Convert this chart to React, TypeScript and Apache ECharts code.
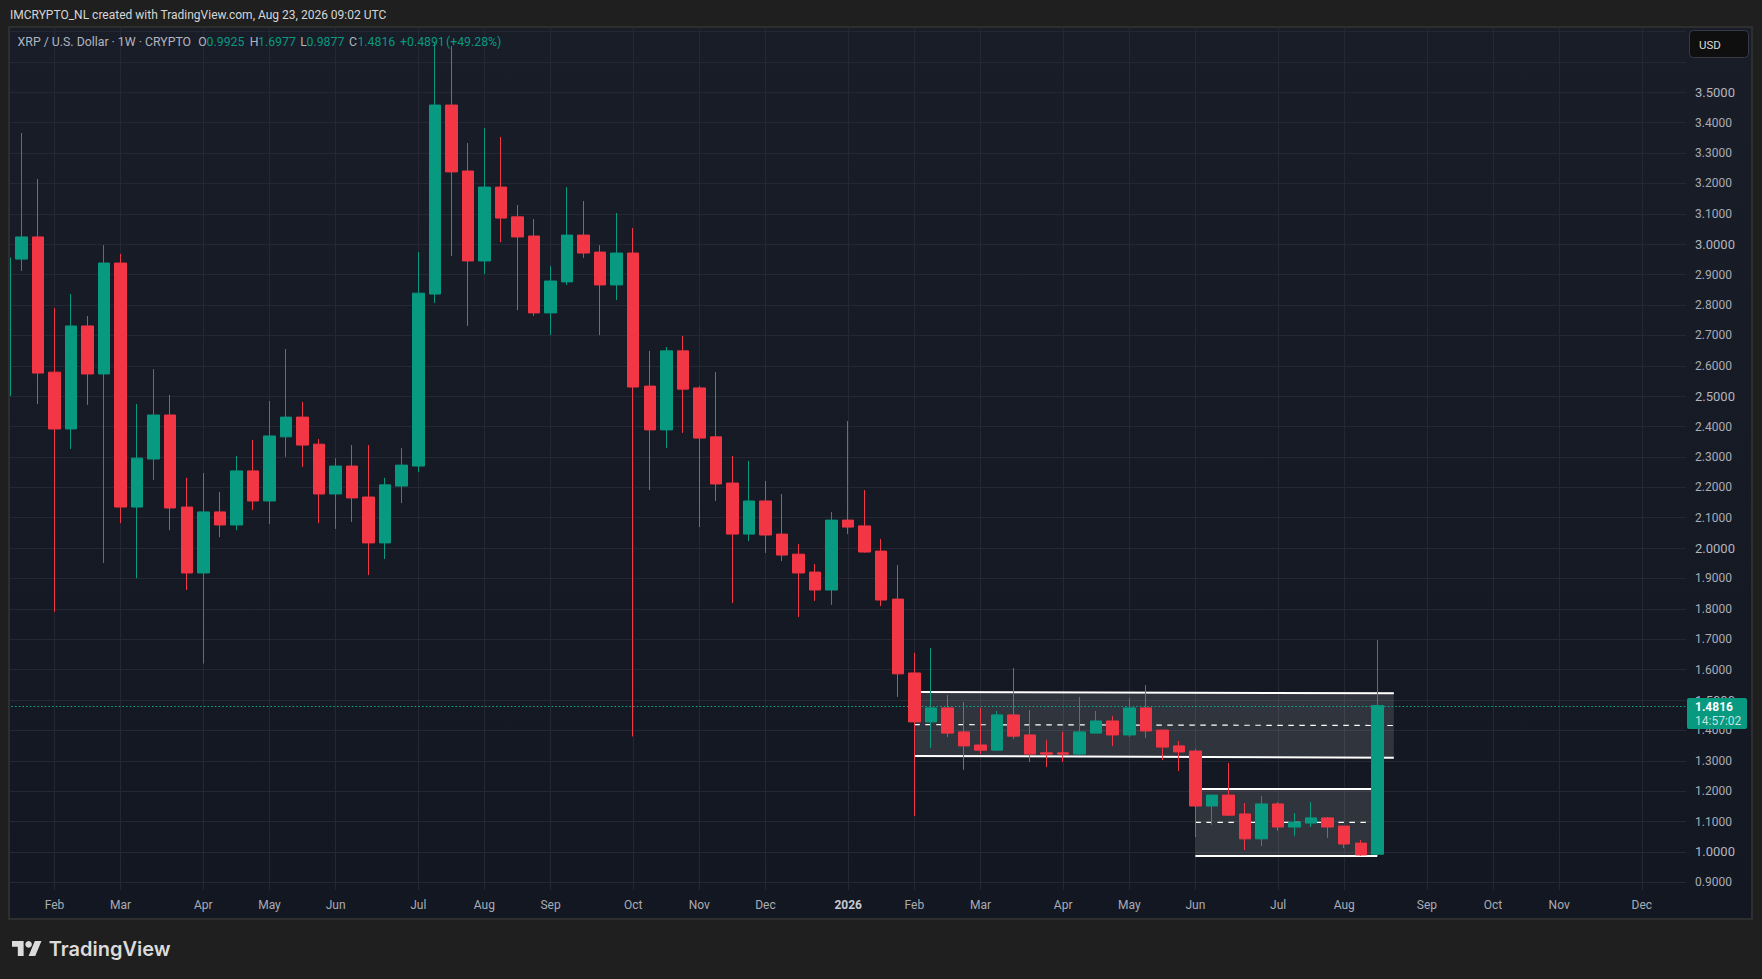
import React, { useEffect, useRef } from 'react';
import * as echarts from 'echarts';

const opens = [2.501, 2.951, 3.024, 2.579, 2.392, 2.731, 2.573, 2.938, 2.135, 2.293, 2.438, 2.135, 1.918, 2.119, 2.076, 2.254, 2.155, 2.366, 2.431, 2.342, 2.178, 2.27, 2.168, 2.017, 2.204, 2.27, 2.836, 3.458, 3.241, 2.945, 3.188, 3.09, 3.027, 2.774, 2.876, 3.03, 2.974, 2.866, 2.971, 2.533, 2.389, 2.649, 2.527, 2.366, 2.214, 2.046, 2.155, 2.046, 1.98, 1.921, 1.862, 2.092, 2.073, 1.99, 1.832, 1.589, 1.428, 1.474, 1.395, 1.352, 1.335, 1.451, 1.385, 1.326, 1.326, 1.322, 1.391, 1.431, 1.385, 1.474, 1.401, 1.349, 1.332, 1.151, 1.187, 1.125, 1.043, 1.158, 1.082, 1.095, 1.112, 1.085, 1.029, 0.9925];
const closes = [2.955, 3.024, 2.576, 2.392, 2.731, 2.573, 2.938, 2.135, 2.296, 2.438, 2.132, 1.918, 2.119, 2.076, 2.254, 2.155, 2.369, 2.431, 2.339, 2.178, 2.27, 2.165, 2.017, 2.208, 2.273, 2.839, 3.458, 3.238, 2.945, 3.188, 3.086, 3.024, 2.774, 2.879, 3.03, 2.971, 2.866, 2.971, 2.53, 2.389, 2.649, 2.523, 2.362, 2.211, 2.046, 2.155, 2.043, 1.977, 1.918, 1.862, 2.092, 2.069, 1.987, 1.829, 1.586, 1.428, 1.474, 1.391, 1.349, 1.335, 1.451, 1.381, 1.322, 1.322, 1.322, 1.395, 1.431, 1.385, 1.474, 1.398, 1.345, 1.329, 1.151, 1.187, 1.121, 1.043, 1.158, 1.082, 1.098, 1.112, 1.082, 1.026, 0.99, 1.4816];
const lows = [2.5, 2.912, 2.474, 1.79, 2.326, 2.471, 1.951, 2.082, 1.901, 2.224, 2.059, 1.862, 1.62, 2.036, 2.059, 2.125, 2.079, 2.3, 2.267, 2.082, 2.063, 2.086, 1.911, 1.964, 2.148, 2.25, 2.807, 2.961, 2.731, 2.902, 3.007, 2.783, 2.764, 2.701, 2.866, 2.955, 2.701, 2.816, 1.38, 2.191, 2.329, 2.379, 2.069, 2.155, 1.819, 2.023, 1.984, 1.957, 1.773, 1.826, 1.813, 2.046, 1.985, 1.809, 1.51, 1.118, 1.342, 1.378, 1.27, 1.322, 1.332, 1.372, 1.296, 1.279, 1.296, 1.319, 1.391, 1.349, 1.378, 1.375, 1.302, 1.266, 1.049, 1.089, 1.118, 1.006, 1.019, 1.069, 1.052, 1.082, 1.046, 1.013, 0.9877, 0.9877];
const highs = [2.955, 3.366, 3.215, 2.79, 2.836, 2.764, 2.997, 2.968, 2.474, 2.589, 2.504, 2.231, 2.247, 2.185, 2.303, 2.356, 2.484, 2.655, 2.481, 2.359, 2.296, 2.339, 2.339, 2.231, 2.329, 2.974, 3.662, 3.652, 3.333, 3.382, 3.353, 3.129, 3.083, 2.928, 3.188, 3.142, 2.997, 3.103, 3.053, 2.649, 2.662, 2.698, 2.533, 2.579, 2.303, 2.287, 2.221, 2.178, 2.013, 1.948, 2.119, 2.418, 2.191, 2.03, 1.944, 1.655, 1.671, 1.516, 1.493, 1.474, 1.464, 1.605, 1.467, 1.368, 1.395, 1.51, 1.464, 1.447, 1.507, 1.549, 1.401, 1.365, 1.339, 1.187, 1.293, 1.161, 1.184, 1.164, 1.128, 1.164, 1.115, 1.085, 1.039, 1.6977];

// weeks that open a new month on the time scale
const monthWeeks: Record<number, string> = {
  3: 'Feb', 7: 'Mar', 12: 'Apr', 16: 'May', 20: 'Jun', 25: 'Jul', 29: 'Aug', 33: 'Sep',
  38: 'Oct', 42: 'Nov', 46: 'Dec', 51: '2026', 55: 'Feb', 59: 'Mar', 64: 'Apr', 68: 'May',
  72: 'Jun', 77: 'Jul', 81: 'Aug', 86: 'Sep', 90: 'Oct', 94: 'Nov', 99: 'Dec',
};
const categories = Array.from({ length: 103 }, (_, i) => monthWeeks[i] ?? '');

const gridTicks = [0.9, 1.0, 1.1, 1.2, 1.3, 1.4, 1.5, 1.6, 1.7, 1.8, 1.9, 2.0, 2.1, 2.2, 2.3, 2.4, 2.5, 2.6, 2.7, 2.8, 2.9, 3.0, 3.1, 3.2, 3.3, 3.4, 3.5, 3.6, 3.7];
const priceLabels = gridTicks.filter((v) => v <= 3.5);

const lastPrice = 1.4816;

// drawn ranges: [week, value] at each end
const upperTop = [[55, 1.526], [84, 1.522]];
const upperMid = [[55, 1.419], [84, 1.416]];
const upperBottom = [[55, 1.316], [84, 1.31]];
const lowerTop = [[72, 1.207], [83, 1.207]];
const lowerMid = [[72, 1.097], [83, 1.097]];
const lowerBottom = [[72, 0.9866], [83, 0.9866]];

const legendParts: Array<[string, number, string]> = [
  ['XRP / U.S. Dollar · 1W · CRYPTO', 17.6, '#b2b5be'],
  ['O', 198.3, '#b2b5be'],
  ['0.9925', 206.6, '#089981'],
  ['H', 249.7, '#b2b5be'],
  ['1.6977', 258, '#089981'],
  ['L', 300.3, '#b2b5be'],
  ['0.9877', 306.5, '#089981'],
  ['C', 349, '#b2b5be'],
  ['1.4816', 357.4, '#089981'],
  ['+0.4891', 400, '#089981'],
  ['(+49.28%)', 446, '#089981'],
];

const UP = '#089981';
const DOWN = '#f23645';
const OUTER = '#1f1f1f';
const FRAME = '#2e2e2e';
const FONT = 'Roboto, sans-serif';
const MIN_Y = 0.8747;
const MAX_Y = 3.7116;

echarts.graphic.registerShape(
  'tvLogo',
  echarts.graphic.extendPath('M14 22H7V11H0V4h14v18zM28 22h-8l7.5-18h8L28 22z', {}) as any,
);

const rangeLine = (data: number[][], color: string, width: number, type: string = 'solid') => ({
  type: 'line' as const,
  data,
  xAxisIndex: 0,
  yAxisIndex: 0,
  z: 1,
  silent: true,
  showSymbol: false,
  symbol: 'none',
  lineStyle: { color, width, type: type === 'dashed' ? [5.5, 5.5] : type },
});

export default function App() {
  const chartRef = useRef<HTMLDivElement>(null);

  useEffect(() => {
    if (!chartRef.current) return;
    const chart = echarts.init(chartRef.current, undefined, { renderer: 'svg' });

    const option: any = {
      animation: false,
      backgroundColor: OUTER,
      textStyle: { fontFamily: FONT },
      grid: [
        { left: -3.37, top: 28, width: 1703.1, height: 862, outerBoundsMode: 'none' },
        { left: 10, top: 28, width: 1676, height: 862, outerBoundsMode: 'none' },
      ],
      xAxis: [
        {
          type: 'category',
          gridIndex: 0,
          data: categories,
          axisLine: { show: false },
          axisTick: { show: false },
          axisLabel: {
            interval: (i: number) => monthWeeks[i] !== undefined,
            color: '#a9acb5',
            fontSize: 12,
            margin: 9,
            fontFamily: FONT,
            formatter: (v: string) => (v === '2026' ? `{y|${v}}` : v),
            rich: { y: { color: '#c6c9d1', fontSize: 12, fontWeight: 'bold', fontFamily: FONT } },
          },
          splitLine: {
            show: true,
            alignWithLabel: true,
            interval: (i: number) => monthWeeks[i] !== undefined,
            lineStyle: { color: '#252833', width: 1 },
          },
        },
        { type: 'value', gridIndex: 1, show: false, min: 0, max: 1 },
      ],
      yAxis: [
        { type: 'value', gridIndex: 0, show: false, min: MIN_Y, max: MAX_Y, splitLine: { show: false } },
        {
          type: 'value',
          gridIndex: 1,
          position: 'right',
          min: MIN_Y,
          max: MAX_Y,
          axisLine: { show: false },
          axisTick: { show: false, customValues: gridTicks },
          axisLabel: {
            customValues: priceLabels,
            color: '#a9acb5',
            fontSize: 12,
            margin: 9,
            fontFamily: FONT,
            formatter: (v: number) => {
              const text = v.toFixed(4);
              return Math.round(v * 10) % 5 === 0 ? `{m|${text}}` : text;
            },
            rich: { m: { color: '#b2b5be', fontSize: 13, fontFamily: FONT } },
          },
          splitLine: { show: true, lineStyle: { color: '#252833', width: 1 } },
        },
      ],
      series: [
        rangeLine(upperTop, '#ffffff', 2),
        rangeLine(upperMid, '#ffffff', 1.2, 'dashed'),
        rangeLine(upperBottom, '#ffffff', 2),
        rangeLine(lowerTop, '#ffffff', 2),
        rangeLine(lowerMid, '#ffffff', 1.2, 'dashed'),
        rangeLine(lowerBottom, '#ffffff', 2),
        {
          name: 'XRP',
          type: 'candlestick',
          xAxisIndex: 0,
          yAxisIndex: 0,
          z: 2,
          barWidth: 12,
          data: opens.map((o, i) => [o, closes[i], lows[i], highs[i]]),
          itemStyle: { color: UP, color0: DOWN, borderColor: UP, borderColor0: DOWN, borderWidth: 1 },
          markArea: {
            silent: true,
            z: 1,
            itemStyle: { color: 'rgba(255,255,255,0.12)' },
            data: [
              [{ xAxis: 55, yAxis: 1.526 }, { xAxis: 84, yAxis: 1.312 }],
              [{ xAxis: 72, yAxis: 1.207 }, { xAxis: 83, yAxis: 0.9866 }],
            ],
          },
          markLine: {
            silent: true,
            z: 1,
            symbol: 'none',
            label: { show: false },
            lineStyle: { color: '#0aae92', type: [1.5, 2.2], width: 1 },
            data: [{ yAxis: lastPrice }],
          },
        },
      ],
      graphic: [
        // chart panel and its frame
        { type: 'rect', z: -10, shape: { x: 9, y: 27, width: 1743, height: 892 }, style: { fill: 'none', stroke: FRAME, lineWidth: 2 } },
        {
          type: 'rect',
          z: -9,
          shape: { x: 10, y: 28, width: 1741, height: 890 },
          style: {
            fill: new echarts.graphic.LinearGradient(0, 0, 0, 1, [
              { offset: 0, color: '#191d28' },
              { offset: 1, color: '#131722' },
            ]),
          },
        },
        // covers the week that is cut off at the left edge
        { type: 'rect', z: 50, shape: { x: 0, y: 26, width: 8, height: 894 }, style: { fill: OUTER } },
        { type: 'rect', z: 50, shape: { x: 8, y: 26, width: 2, height: 894 }, style: { fill: FRAME } },
        {
          type: 'text',
          z: 60,
          x: 10,
          y: 15,
          style: {
            text: 'IMCRYPTO_NL created with TradingView.com, Aug 23, 2026 09:02 UTC',
            fill: '#d6d6d6',
            font: `12px ${FONT}`,
            textVerticalAlign: 'middle',
          },
        },
        ...legendParts.map(([text, x, fill]) => ({
          type: 'text',
          z: 60,
          x,
          y: 42,
          style: { text, fill, font: `12.3px ${FONT}`, textVerticalAlign: 'middle' },
        })),
        // currency button
        {
          type: 'rect',
          z: 60,
          shape: { x: 1689.5, y: 30.5, width: 59, height: 27, r: 4 },
          style: { fill: '#0f0f0f', stroke: '#363a45', lineWidth: 1 },
        },
        {
          type: 'text',
          z: 61,
          x: 1699,
          y: 44.5,
          style: { text: 'USD', fill: '#dbdbdb', font: `11.5px ${FONT}`, textVerticalAlign: 'middle' },
        },
        // last price tag
        {
          type: 'rect',
          z: 60,
          shape: { x: 1687, y: 698, width: 60, height: 31, r: 2 },
          style: { fill: UP },
        },
        {
          type: 'text',
          z: 61,
          x: 1695,
          y: 706.7,
          style: { text: '1.4816', fill: '#ffffff', font: `bold 12px ${FONT}`, textVerticalAlign: 'middle' },
        },
        {
          type: 'text',
          z: 61,
          x: 1695,
          y: 721,
          style: { text: '14:57:02', fill: 'rgba(255,255,255,0.75)', font: `12px ${FONT}`, textVerticalAlign: 'middle' },
        },
        // TradingView mark
        { type: 'tvLogo', z: 60, x: 12, y: 937.7, scaleX: 0.83, scaleY: 0.83, style: { fill: '#dbdbdb' } },
        { type: 'circle', z: 60, shape: { cx: 28.6, cy: 944.3, r: 3.3 }, style: { fill: '#dbdbdb' } },
        {
          type: 'text',
          z: 60,
          x: 48.7,
          y: 949,
          style: { text: 'TradingView', fill: '#dbdbdb', font: `600 20px Inter, ${FONT}`, textVerticalAlign: 'middle' },
        },
      ],
    };

    chart.setOption(option);
    return () => {
      chart.dispose();
    };
  }, []);

  return <div ref={chartRef} style={{ position: 'fixed', left: 0, top: 0, width: 1762, height: 979 }} />;
}
